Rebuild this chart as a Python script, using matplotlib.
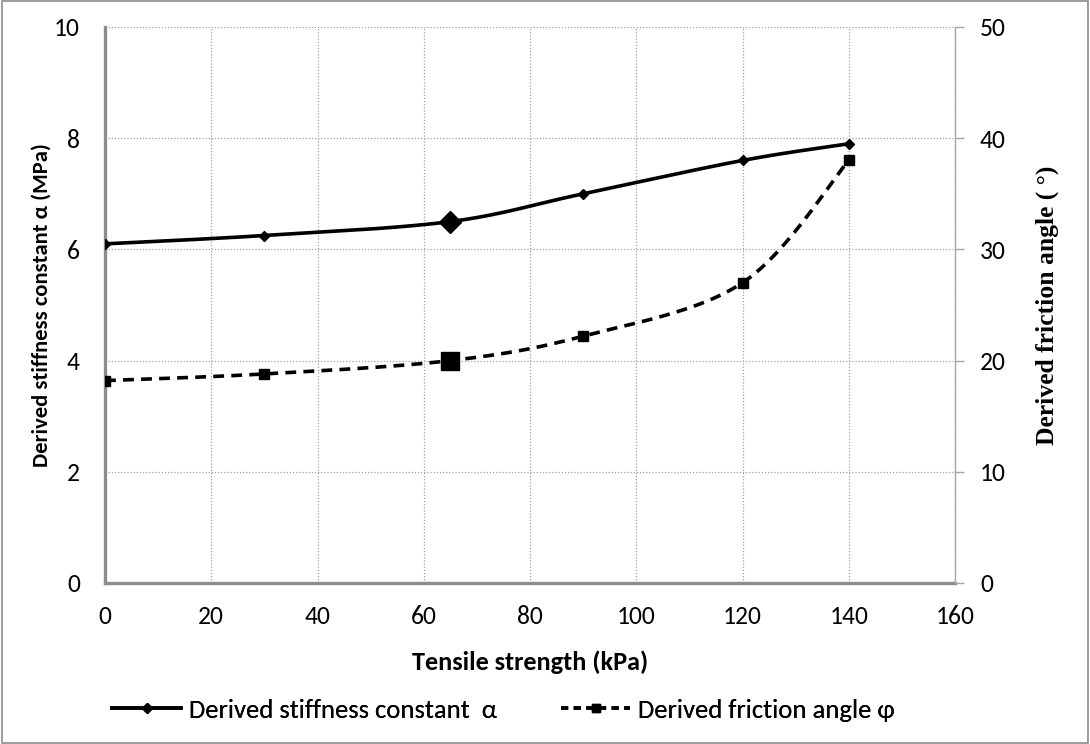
import matplotlib
matplotlib.use("Agg")
import matplotlib.pyplot as plt
import numpy as np
from matplotlib.lines import Line2D

# Tensile strength (kPa) and the two derived quantities
strength = [0, 30, 65, 90, 120, 140]
stiffness = [6.1, 6.25, 6.5, 7.0, 7.6, 7.9]        # MPa
friction = [18.2, 18.8, 20.0, 22.2, 27.0, 38.0]   # degrees
highlight = 65

x_ticks = [0, 20, 40, 60, 80, 100, 120, 140, 160]
left_ticks = [0, 2, 4, 6, 8, 10]
right_ticks = [0, 10, 20, 30, 40, 50]

labels = ["Derived stiffness constant  α", "Derived friction angle φ"]

sans = ["Carlito", "Lato", "DejaVu Sans"]
serif = ["Liberation Serif", "DejaVu Serif"]


def smooth(xs, ys, n=30):
    # spreadsheet style smoothing: cubic Bezier segments, tangents from neighbours
    xs = np.asarray(xs, float)
    ys = np.asarray(ys, float)
    px = np.concatenate([[xs[0]], xs, [xs[-1]]])
    py = np.concatenate([[ys[0]], ys, [ys[-1]]])
    ox, oy = [], []
    t = np.linspace(0, 1, n)
    for i in range(1, len(px) - 2):
        p0 = np.array([px[i], py[i]])
        p3 = np.array([px[i + 1], py[i + 1]])
        p1 = p0 + (np.array([px[i + 1], py[i + 1]]) - np.array([px[i - 1], py[i - 1]])) / 6
        p2 = p3 - (np.array([px[i + 2], py[i + 2]]) - np.array([px[i], py[i]])) / 6
        b = ((1 - t) ** 3)[:, None] * p0 + (3 * (1 - t) ** 2 * t)[:, None] * p1 \
            + (3 * (1 - t) * t ** 2)[:, None] * p2 + (t ** 3)[:, None] * p3
        ox.extend(b[:, 0])
        oy.extend(b[:, 1])
    return ox, oy


W, H = 1090, 744
fig = plt.figure(figsize=(W / 100, H / 100), dpi=100)
renderer = fig.canvas.get_renderer()


def size_for(s, width_px, **kw):
    # font size (pt) at which the string is width_px wide
    t = fig.text(0, 0, s, fontsize=20, **kw)
    w = t.get_window_extent(renderer).width
    t.remove()
    return 20 * width_px / w


fs_tick = size_for("100", 39, family=sans)
fs_leg = size_for(labels[0], 306, family=sans)
fs_xlab = size_for("Tensile strength (kPa)", 237, family=sans, fontweight="bold")
fs_ylab = size_for("Derived stiffness constant α (MPa)", 325, family=sans, fontweight="bold")
fs_rlab = size_for("Derived friction angle ( °)", 280, family=serif, fontweight="bold")

x0, x1, y0, y1 = 105, 955, 27, 583   # plot area in pixels
ax = fig.add_axes([x0 / W, 1 - y1 / H, (x1 - x0) / W, (y1 - y0) / H])
ax2 = ax.twinx()

ax.set_xlim(0, 160)
ax.set_ylim(0, 10)
ax2.set_ylim(0, 50)

ax.set_xticks(x_ticks)
ax.set_yticks(left_ticks)
ax2.set_yticks(right_ticks)
ax.grid(True, color="#a0a0a0", linestyle=(0, (1, 1.5)), linewidth=0.9)
ax.set_axisbelow(True)

sx, sy = smooth(strength, stiffness)
ax.plot(sx, sy, color="black", linewidth=2.6, zorder=3)
ax.plot(strength, stiffness, linestyle="none", marker="D", markersize=5,
        color="black", zorder=4)
i = strength.index(highlight)
ax.plot([strength[i]], [stiffness[i]], linestyle="none", marker="D",
        markersize=11, color="black", zorder=5)

fx, fy = smooth(strength, friction)
ax2.plot(fx, fy, color="black", linewidth=2.6, linestyle=(0, (3, 2)), zorder=3)
ax2.plot(strength, friction, linestyle="none", marker="s", markersize=7,
         color="black", zorder=4)
ax2.plot([strength[i]], [friction[i]], linestyle="none", marker="s",
         markersize=13, color="black", zorder=5)

for a in (ax, ax2):
    for s in a.spines.values():
        s.set_visible(False)
for side in ("left", "bottom"):
    ax.spines[side].set_visible(True)
    ax.spines[side].set_color("#8c8c8c")
    ax.spines[side].set_linewidth(2.4)
ax2.spines["right"].set_visible(True)
ax2.spines["right"].set_color("#a6a6a6")
ax2.spines["right"].set_linewidth(1.0)

ax.tick_params(axis="both", length=0, labelsize=fs_tick)
ax.tick_params(axis="y", pad=18)
ax.tick_params(axis="x", pad=16)
ax2.tick_params(axis="y", length=6.5, width=1.0, color="#a6a6a6",
                labelsize=fs_tick, pad=11.5)
for lab in ax.get_xticklabels() + ax.get_yticklabels() + ax2.get_yticklabels():
    lab.set_family(sans)

ax.set_xlabel("Tensile strength (kPa)", fontsize=fs_xlab, fontweight="bold",
              family=sans, va="center")
ax.xaxis.set_label_coords(0.5, (y1 - 662) / (y1 - y0))
ax.set_ylabel("Derived stiffness constant α (MPa)", fontsize=fs_ylab,
              fontweight="bold", family=sans, va="center")
ax.yaxis.set_label_coords((42 - x0) / (x1 - x0), 0.5)
ax2.set_ylabel("Derived friction angle ( °)", fontsize=fs_rlab, fontweight="bold",
               family=serif, va="center")
ax2.yaxis.set_label_coords((1047 - x0) / (x1 - x0), 0.5)

# legend below the axis title, one entry per series
handles = [
    Line2D([], [], color="black", linewidth=2.6, marker="D", markersize=5),
    Line2D([], [], color="black", linewidth=2.6, linestyle=(0, (2, 1.5)),
           marker="s", markersize=6),
]
fs_px = fs_leg * 100 / 72
for h, lab, left in zip(handles, labels, (112, 561)):
    leg = fig.legend([h], [lab], loc="center left",
                     bbox_to_anchor=(left / W, 1 - 710 / H), frameon=False,
                     borderpad=0, borderaxespad=0,
                     handlelength=69 / fs_px, handletextpad=8 / fs_px,
                     prop={"family": sans, "size": fs_leg})
    fig.add_artist(leg)

# outer chart border
fig.patches.append(plt.Rectangle((0.002, 0.002), 0.996, 0.996, transform=fig.transFigure,
                                 fill=False, edgecolor="#8c8c8c", linewidth=1.2))

fig.savefig("out.png", dpi=100)
